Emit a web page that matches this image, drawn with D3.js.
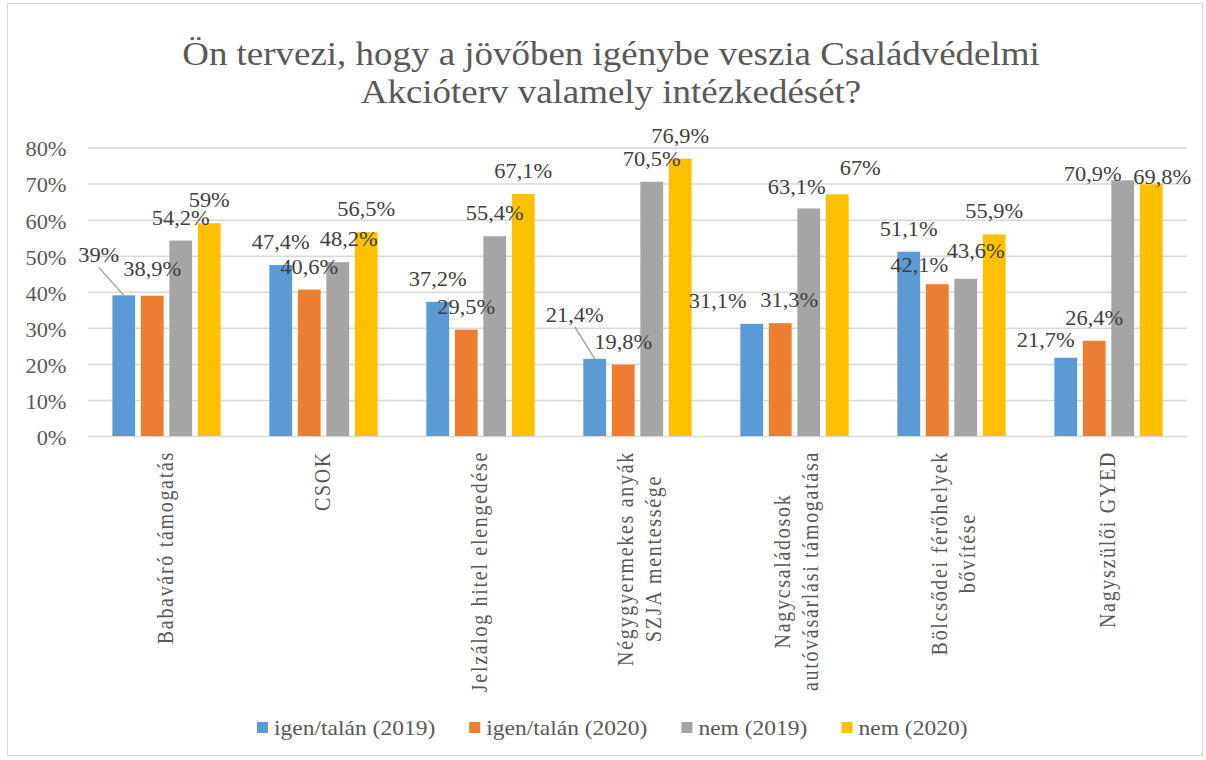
<!DOCTYPE html>
<html>
<head>
<meta charset="utf-8">
<script src="https://cdn.jsdelivr.net/npm/d3@7"></script>
<style>
body { margin: 0; background: #fff; }
text { font-family: "Liberation Serif", "Times New Roman", serif; }
</style>
</head>
<body>
<svg id="chart"></svg>
<script>
var title = ["Ön tervezi, hogy a jövőben igénybe veszia Családvédelmi", "Akcióterv valamely intézkedését?"];
var categories = [["Babaváró támogatás"], ["CSOK"], ["Jelzálog hitel elengedése"],
                  ["Négygyermekes anyák", "SZJA mentessége"], ["Nagycsaládosok", "autóvásárlási támogatása"],
                  ["Bölcsődei férőhelyek", "bővítése"], ["Nagyszülői GYED"]];
var seriesNames = ["igen/talán (2019)", "igen/talán (2020)", "nem (2019)", "nem (2020)"];
var igen2019 = [39, 47.4, 37.2, 21.4, 31.1, 51.1, 21.7];
var igen2020 = [38.9, 40.6, 29.5, 19.8, 31.3, 42.1, 26.4];
var nem2019 = [54.2, 48.2, 55.4, 70.5, 63.1, 43.6, 70.9];
var nem2020 = [59, 56.5, 67.1, 76.9, 67, 55.9, 69.8];
var yTicks = [0, 10, 20, 30, 40, 50, 60, 70, 80];

var series = [igen2019, igen2020, nem2019, nem2020];
var colors = ["#5b9bd5", "#ed7d31", "#a5a5a5", "#ffc000"];

// Excel "best fit" label shifts, screen px [dx, dy], per category and series
var nudges = [
    [[-25, -17], [0, -4], [0, 0], [0, 0]],
    [[0, 0], [0, 0], [11, 0], [0, 0]],
    [[0, 0], [0, 0], [0, 0], [0, 0]],
    [[-20, -21], [0, 0], [0, 0], [0, 0]],
    [[-34, 0], [9, 0], [-12, 2], [23, -3]],
    [[0, 0], [-18, 4], [10, -5], [0, 0]],
    [[-20, 5], [0, 0], [-30, 17], [11, 16]]
];
var leaders = [[0, 0], [3, 0]];

var W = 1206, H = 760;
var SX = 1.12; // the reference is stretched sideways
var fmt = function(v) { return String(v).replace(".", ",") + "%"; };

var svg = d3.select("#chart")
    .attr("width", W).attr("height", H)
    .attr("viewBox", "0 0 " + (W / SX) + " " + H)
    .attr("preserveAspectRatio", "none");

svg.append("rect")
    .attr("x", 7.5 / SX).attr("y", 3.5)
    .attr("width", 1195 / SX).attr("height", 752)
    .attr("fill", "#fff").attr("stroke", "#d9d9d9").attr("stroke-width", 1);

var left = 88 / SX, right = 1187 / SX;

var x0 = d3.scaleBand()
    .domain(d3.range(categories.length))
    .range([left, right])
    .paddingInner(43 / 157)
    .paddingOuter(43 / 157 / 2);

var x1 = d3.scaleBand()
    .domain(d3.range(series.length))
    .range([0, x0.bandwidth()])
    .paddingInner(0.2)
    .paddingOuter(0.1);

var y = d3.scaleLinear().domain([0, 80]).range([436, 147.5]);

// title
svg.selectAll(".title")
    .data(title)
    .enter().append("text")
    .attr("class", "title")
    .attr("x", 611 / SX)
    .attr("y", function(d, i) { return 65 + i * 38; })
    .attr("text-anchor", "middle")
    .style("font-size", "33px")
    .style("fill", "#595959")
    .text(function(d) { return d; });

// grid + y axis
var yAxis = d3.axisLeft(y)
    .tickValues(yTicks)
    .tickSize(-(right - left))
    .tickPadding(21.5 / SX)
    .tickFormat(function(d) { return d + "%"; });

var gy = svg.append("g")
    .attr("transform", "translate(" + left + ",0)")
    .call(yAxis);
gy.select(".domain").remove();
gy.selectAll("line").attr("stroke", "#d9d9d9").attr("stroke-width", 1.5);
gy.selectAll("text")
    .attr("dy", "0.42em")
    .style("font-family", "'Liberation Serif', serif")
    .style("font-size", "20px")
    .style("fill", "#595959");

// bars
for (let j = 0; j < series.length; j++) {
    svg.append("g")
        .selectAll("rect")
        .data(series[j])
        .enter().append("rect")
        .attr("x", function(d, i) { return x0(i) + x1(j); })
        .attr("y", function(d) { return y(d); })
        .attr("width", x1.bandwidth())
        .attr("height", function(d) { return y(0) - y(d); })
        .attr("fill", colors[j]);
}

// data labels
for (let j = 0; j < series.length; j++) {
    for (let i = 0; i < categories.length; i++) {
        var v = series[j][i];
        var bx = x0(i) + x1(j) + x1.bandwidth() / 2;
        var lx = bx + nudges[i][j][0] / SX;
        var ly = y(v) - 16 + nudges[i][j][1];
        var hasLeader = leaders.some(function(p) { return p[0] == i && p[1] == j; });
        if (hasLeader) {
            svg.append("line")
                .attr("x1", lx).attr("y1", ly + 5)
                .attr("x2", bx).attr("y2", y(v))
                .attr("stroke", "#a6a6a6").attr("stroke-width", 1.3);
        }
        svg.append("text")
            .attr("x", lx)
            .attr("y", ly)
            .attr("text-anchor", "middle")
            .style("font-size", "20px")
            .style("fill", "#404040")
            .text(fmt(v));
    }
}

// category labels, rotated
var labelTop = 451;
categories.forEach(function(lines, i) {
    var cx = x0(i) + x0.bandwidth() / 2;
    var offs = lines.length == 1 ? [6.5] : [-4.5, 23.5];
    var texts = lines.map(function(line, k) {
        return svg.append("text")
            .attr("text-anchor", "middle")
            .style("font-size", "20px")
            .style("letter-spacing", "1.7px")
            .style("fill", "#595959")
            .text(line);
    });
    var maxLen = d3.max(texts, function(t) { return t.node().getComputedTextLength(); });
    texts.forEach(function(t, k) {
        t.attr("transform", "translate(" + (cx + offs[k] / SX) + "," + (labelTop + maxLen / 2) + ") rotate(-90)");
    });
});

// legend
var lgX = 257 / SX;
seriesNames.forEach(function(name, j) {
    svg.append("rect")
        .attr("x", lgX).attr("y", 722)
        .attr("width", 11 / SX).attr("height", 11)
        .attr("fill", colors[j]);
    var t = svg.append("text")
        .attr("x", lgX + 17 / SX)
        .attr("y", 735)
        .style("font-size", "21px")
        .style("fill", "#595959")
        .text(name);
    lgX += 17 / SX + t.node().getComputedTextLength() + 34 / SX;
});
</script>
</body>
</html>
